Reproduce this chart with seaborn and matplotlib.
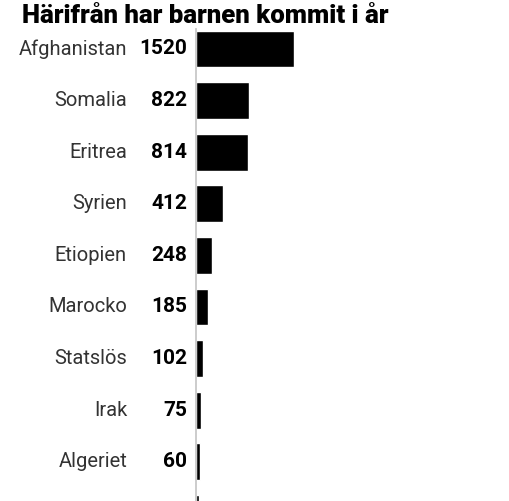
import matplotlib.pyplot as plt
import seaborn as sns
import pandas as pd

# Data
countries = ["Afghanistan", "Somalia", "Eritrea", "Syrien", "Etiopien",
             "Marocko", "Statslös", "Irak", "Algeriet", ""]
values = [1520, 822, 814, 412, 248, 185, 102, 75, 60, 50]
title = "Härifrån har barnen kommit i år"

df = pd.DataFrame({"land": countries, "antal": values})

sns.set_style("white")
plt.rcParams["font.family"] = ["Roboto", "DejaVu Sans"]

fig = plt.figure(figsize=(5.09, 5.01), dpi=100)
# axes left edge at the grey baseline (x=196 px), full height
ax = fig.add_axes([196 / 509, 0, 313 / 509, 1])

sns.barplot(data=df, x="antal", y="land", orient="h", color="black",
            width=0.71, ax=ax, saturation=1)

ax.set_xlim(0, 1520 * 313 / 98)
ax.set_ylim((501 - 49) / 51.6, -49 / 51.6)

for s in ["top", "right", "bottom"]:
    ax.spines[s].set_visible(False)
ax.spines["left"].set_color("#c8c8c8")
ax.spines["left"].set_linewidth(1.3)
ax.spines["left"].set_bounds(-0.38, 10)
ax.set_xticks([])
ax.set_yticks([])
ax.set_xlabel("")
ax.set_ylabel("")

tr = ax.get_yaxis_transform()
for i, (c, v) in enumerate(zip(countries, values)):
    if not c:
        continue
    ax.text(-69 / 313, i, c, transform=tr, ha="right", va="center",
            fontsize=14.5, color="#333333")
    ax.text(-9 / 313, i, str(v), transform=tr, ha="right", va="center",
            fontsize=15, color="black", fontweight="bold")

t = fig.text(22 / 509, 1 - 23 / 501, title, ha="left", va="baseline",
             fontsize=20, fontweight="black", color="black")
# shrink the title so it spans the same width as in the original
fig.canvas.draw()
w = t.get_window_extent().width
t.set_fontsize(20 * 366 / w)

fig.savefig("out.png", dpi=100)
